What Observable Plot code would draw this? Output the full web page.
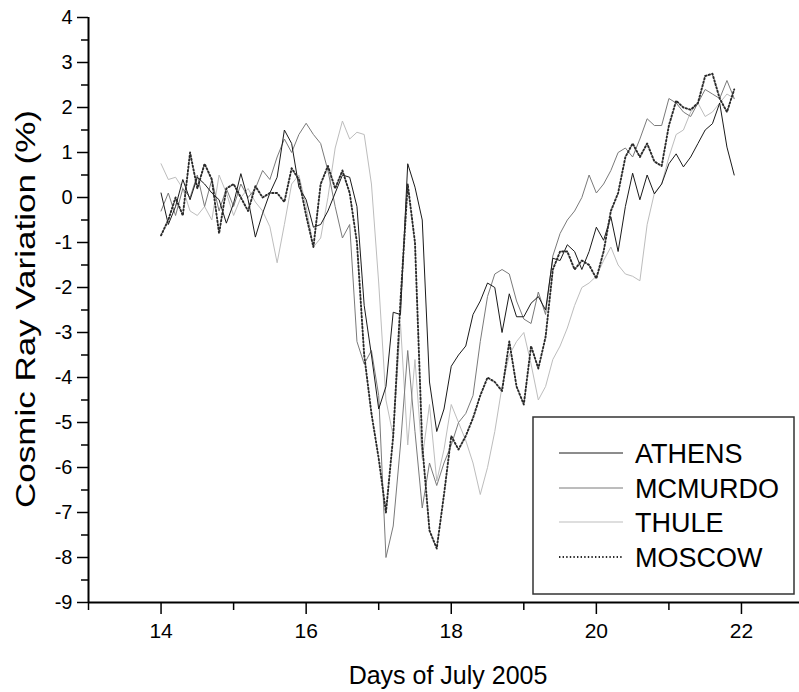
<!DOCTYPE html>
<html><head><meta charset="utf-8">
<script src="https://cdn.jsdelivr.net/npm/d3@7"></script>
<script src="https://cdn.jsdelivr.net/npm/@observablehq/plot@0.6"></script>
<style>body{margin:0;background:#fff}#chart{width:799px;height:692px;position:relative}</style>
</head><body><div id="chart"></div>
<script>
const days = [14.0,14.1,14.2,14.3,14.4,14.5,14.6,14.7,14.8,14.9,
15.0,15.1,15.2,15.3,15.4,15.5,15.6,15.7,15.8,15.9,
16.0,16.1,16.2,16.3,16.4,16.5,16.6,16.7,16.8,16.9,
17.0,17.1,17.2,17.3,17.4,17.5,17.6,17.7,17.8,17.9,
18.0,18.1,18.2,18.3,18.4,18.5,18.6,18.7,18.8,18.9,
19.0,19.1,19.2,19.3,19.4,19.5,19.6,19.7,19.8,19.9,
20.0,20.1,20.2,20.3,20.4,20.5,20.6,20.7,20.8,20.9,
21.0,21.1,21.2,21.3,21.4,21.5,21.6,21.7,21.8,21.9];

const athens = [0.1,-0.6,-0.2,0.4,-0.05,0.45,0.3,0.1,-0.05,-0.57,
-0.13,0.53,-0.05,-0.88,-0.35,0.1,0.45,1.5,1.2,0.23,
-0.05,-0.66,-0.6,-0.3,0.1,0.5,0.45,-0.2,-2.4,-3.5,
-4.7,-4.2,-2.55,-2.6,0.75,0.23,-0.5,-4.1,-5.2,-4.7,
-3.75,-3.5,-3.3,-2.6,-2.3,-1.9,-2.0,-3.0,-2.14,-2.65,
-2.65,-2.35,-2.2,-2.5,-1.35,-1.4,-1.05,-1.2,-1.6,-1.2,
-0.66,-0.95,-0.43,-1.2,-0.2,0.54,-0.05,0.5,0.08,0.3,
0.75,0.97,0.68,0.9,1.2,1.5,1.64,2.1,1.12,0.5];

const mcmurdo = [-0.3,0.1,-0.4,0.2,0.0,0.5,-0.2,0.4,-0.3,0.2,
-0.2,0.3,0.0,0.2,0.6,0.4,0.9,1.3,1.0,1.4,
1.65,1.4,1.2,0.6,-0.2,-0.9,-0.6,-3.2,-3.7,-3.4,
-4.4,-8.0,-7.3,-5.5,-3.4,-5.2,-6.9,-5.9,-6.4,-5.9,
-5.5,-5.0,-4.8,-4.4,-3.2,-2.2,-1.7,-1.6,-1.7,-2.3,
-2.7,-2.8,-2.1,-2.6,-1.3,-0.8,-0.5,-0.3,0.0,0.5,
0.1,0.3,0.6,1.0,1.1,0.9,1.3,1.75,1.6,1.6,
2.2,2.1,1.9,1.8,2.1,2.4,2.3,2.2,2.6,2.2];

const thule = [0.75,0.4,0.45,0.2,-0.3,-0.4,-0.2,-0.5,0.5,0.1,
-0.4,0.0,0.2,-0.1,-0.3,-0.65,-1.45,-0.6,0.3,0.5,
-0.2,-1.1,-0.9,0.0,1.1,1.7,1.3,1.45,1.4,0.3,
-1.9,-4.5,-5.3,-2.8,-5.5,-3.6,-5.8,-4.6,-6.3,-5.6,
-4.6,-5.0,-5.4,-5.9,-6.6,-6.0,-5.2,-4.2,-3.5,-3.2,
-3.0,-3.7,-4.5,-4.2,-3.6,-3.3,-2.9,-2.4,-2.0,-1.9,
-1.75,-1.4,-1.1,-1.5,-1.7,-1.75,-1.85,-0.6,0.1,0.3,
0.9,1.4,1.5,1.9,2.1,1.8,1.9,2.1,2.3,2.2];

const moscow = [-0.84,-0.5,0.0,-0.4,1.0,0.2,0.75,0.4,-0.8,0.2,
0.3,0.0,-0.3,0.25,0.0,0.1,0.1,-0.1,0.65,0.4,
-0.4,-1.1,0.3,0.7,0.2,0.6,0.1,-1.0,-3.5,-4.8,
-5.8,-7.0,-5.3,-2.3,0.3,-1.0,-5.5,-7.4,-7.8,-6.6,
-5.3,-5.6,-5.3,-4.9,-4.4,-4.0,-4.1,-4.3,-3.2,-4.2,
-4.6,-3.3,-3.8,-3.1,-1.6,-1.2,-1.2,-1.6,-1.4,-1.5,
-1.8,-1.2,-0.3,0.1,0.9,1.2,0.9,1.2,0.8,0.7,
1.6,2.15,2.0,1.95,2.1,2.7,2.75,2.2,1.9,2.4];

const seriesNames = ["ATHENS","MCMURDO","THULE","MOSCOW"];
const xMajorTicks = [14,16,18,20,22];
const xMinorTicks = [13,15,17,19,21];
const yMajorTicks = [-9,-8,-7,-6,-5,-4,-3,-2,-1,0,1,2,3,4];
const yMinorTicks = [-8.5,-7.5,-6.5,-5.5,-4.5,-3.5,-2.5,-1.5,-0.5,0.5,1.5,2.5,3.5];

const values = {ATHENS: athens, MCMURDO: mcmurdo, THULE: thule, MOSCOW: moscow};
const styles = {
  ATHENS: {stroke: "#1a1a1a", strokeWidth: 1},
  MCMURDO: {stroke: "#7a7a7a", strokeWidth: 1},
  THULE: {stroke: "#bdbdbd", strokeWidth: 1},
  MOSCOW: {stroke: "#2a2a2a", strokeWidth: 1.9, strokeDasharray: "1.4,2.2"}
};
const rows = name => days.map((d, i) => ({day: d, value: values[name][i], series: name}));
const drawOrder = ["THULE", "MCMURDO", "ATHENS", "MOSCOW"];

const plot = Plot.plot({
  width: 799, height: 692,
  marginLeft: 88, marginRight: 0, marginTop: 17, marginBottom: 90,
  x: {domain: [13, 22.8]},
  y: {domain: [-9, 4]},
  style: {fontFamily: "'Liberation Sans', Arial, sans-serif", color: "#000", background: "#fff"},
  marks: [
    Plot.axisY({ticks: yMinorTicks, tickSize: 7, tickFormat: () => "", strokeWidth: 1.5, label: null}),
    Plot.axisY({ticks: yMajorTicks, tickSize: 11, tickPadding: 5, fontSize: 20, strokeWidth: 1.5, label: null, tickFormat: d => String(d)}),
    Plot.axisX({ticks: xMinorTicks, tickSize: 8, tickFormat: () => "", strokeWidth: 1.5, label: null}),
    Plot.axisX({ticks: xMajorTicks, tickSize: 12, tickPadding: 9, fontSize: 21, strokeWidth: 1.5, label: null, tickFormat: d => String(d)}),
    ...drawOrder.map(name => Plot.line(rows(name), {x: "day", y: "value", ...styles[name]})),
    Plot.ruleX([13], {stroke: "#000", strokeWidth: 2}),
    Plot.ruleY([-9], {stroke: "#000", strokeWidth: 2})
  ]
});

const svg = d3.select(plot);
svg.append("text")
  .attr("transform", "translate(35,309) rotate(-90)")
  .attr("text-anchor", "middle")
  .style("font-size", "28px")
  .attr("textLength", 398)
  .attr("lengthAdjust", "spacingAndGlyphs")
  .attr("fill", "#000")
  .text("Cosmic Ray Variation (%)");
svg.append("text")
  .attr("x", 448).attr("y", 684)
  .attr("text-anchor", "middle")
  .style("font-size", "25px")
  .attr("fill", "#000")
  .text("Days of July 2005");

const lg = svg.append("g").attr("text-anchor", "start");
lg.append("rect").attr("x", 533).attr("y", 417).attr("width", 261).attr("height", 177)
  .attr("fill", "#fff").attr("stroke", "#333").attr("stroke-width", 1.5);
const legendRowY = [453, 488, 522, 557];
seriesNames.forEach((name, i) => {
  const s = styles[name];
  lg.append("line").attr("x1", 559).attr("x2", 623).attr("y1", legendRowY[i]).attr("y2", legendRowY[i])
    .attr("stroke", s.stroke).attr("stroke-width", s.strokeWidth)
    .attr("stroke-dasharray", s.strokeDasharray || null);
  lg.append("text").attr("x", 635).attr("y", legendRowY[i] + 10)
    .attr("text-anchor", "start")
    .style("font-size", "27px").attr("fill", "#000").text(name);
});

document.getElementById("chart").appendChild(plot);
</script>
</body></html>
